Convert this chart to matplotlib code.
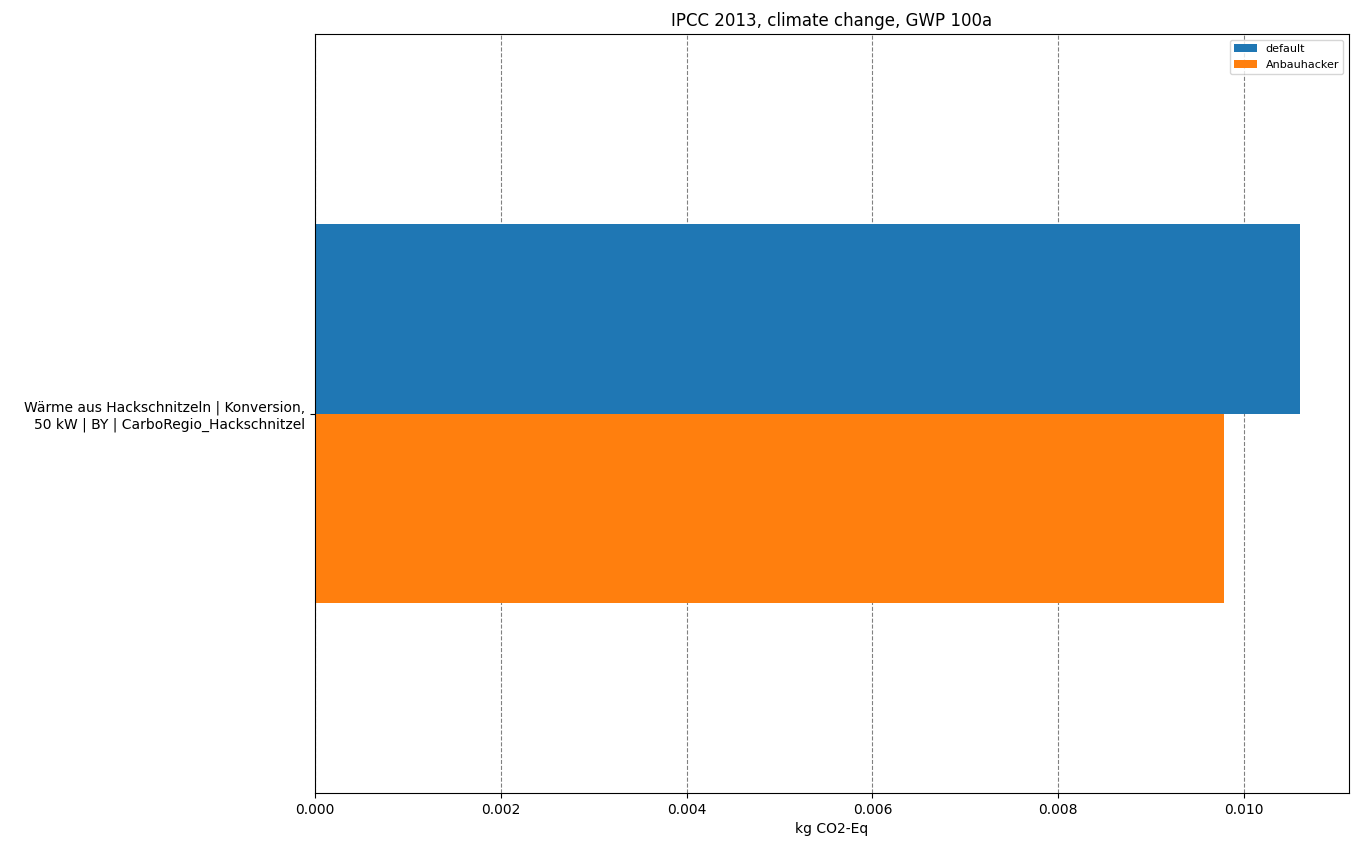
import numpy as np
import matplotlib
matplotlib.use("Agg")
import matplotlib.pyplot as plt

# ------------------------------------------------------------
# Datos
# ------------------------------------------------------------
categorias = ["Wärme aus Hackschnitzeln | Konversion,\n50 kW | BY | CarboRegio_Hackschnitzel"]
series = ["default", "Anbauhacker"]
valores_default = [0.01060]
valores_anbauhacker = [0.00978]
colores = ["#1f77b4", "#ff7f0e"]

# ------------------------------------------------------------
# Figura
# ------------------------------------------------------------
fig, ax = plt.subplots(figsize=(13.7, 8.52), dpi=100)
fig.subplots_adjust(left=0.2299, right=0.9847, top=0.960, bottom=0.0692)

y = np.arange(len(categorias))
alto = 0.25

ax.barh(y + alto / 2, valores_default, height=alto, color=colores[0], label=series[0])
ax.barh(y - alto / 2, valores_anbauhacker, height=alto, color=colores[1], label=series[1])

ax.set_yticks(y)
ax.set_yticklabels(categorias, ha="right", multialignment="right")
ax.set_ylim(-0.5, 0.5)

ax.set_axisbelow(True)
ax.grid(axis="x", linestyle="--", color="gray")

ax.set_xlabel("kg CO2-Eq")
ax.set_title("IPCC 2013, climate change, GWP 100a")

# orden de leyenda: default arriba
ax.legend(loc="upper right", fontsize=8)

fig.savefig("out.png", dpi=100)
